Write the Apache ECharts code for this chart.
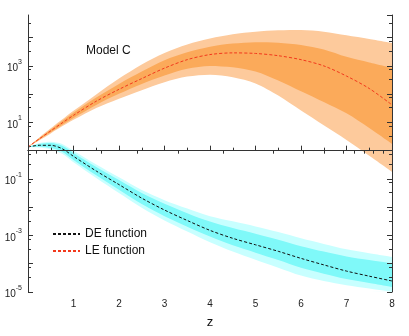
<!DOCTYPE html>
<html>
<head>
<meta charset="utf-8">
<script src="https://cdn.jsdelivr.net/npm/echarts@6/dist/echarts.min.js"></script>
<style>
  html, body { margin: 0; padding: 0; background: #fff; }
  #chart { width: 409px; height: 336px; }
</style>
</head>
<body>
<div id="chart"></div>
<script>
// Redshift samples
const z = [0, 0.25, 0.5, 0.75, 1, 1.5, 2, 2.5, 3, 3.5, 4, 4.5, 5, 5.5, 6, 6.5, 7, 7.5, 8];

// All values below are log10 of the plotted quantity.
// LE function: central curve and the inner / outer envelopes
const leMid    = [0.13, 0.42, 0.70, 0.98, 1.25, 1.75, 2.17, 2.55, 2.92, 3.22, 3.40, 3.46, 3.44, 3.36, 3.22, 3.00, 2.64, 2.20, 1.62];
const leIn_hi  = [0.13, 0.45, 0.75, 1.05, 1.34, 1.88, 2.36, 2.80, 3.20, 3.48, 3.68, 3.79, 3.84, 3.82, 3.74, 3.58, 3.32, 3.12, 2.93];
const leIn_lo  = [0.13, 0.39, 0.65, 0.91, 1.16, 1.62, 2.01, 2.36, 2.66, 2.90, 3.00, 2.95, 2.80, 2.48, 2.10, 1.72, 1.32, 0.80, 0.24];
const leOut_hi = [0.13, 0.47, 0.79, 1.10, 1.41, 1.99, 2.55, 3.05, 3.46, 3.76, 3.97, 4.12, 4.21, 4.26, 4.27, 4.21, 4.08, 3.95, 3.81];
const leOut_lo = [0.13, 0.37, 0.61, 0.86, 1.09, 1.51, 1.84, 2.14, 2.42, 2.62, 2.69, 2.60, 2.38, 1.95, 1.42, 0.90, 0.38, -0.18, -0.75];

// DE function: central curve and envelopes
const deMid    = [0.13, 0.19, 0.19, 0.07, -0.20, -0.72, -1.20, -1.68, -2.10, -2.47, -2.82, -3.10, -3.33, -3.56, -3.81, -4.04, -4.26, -4.44, -4.61];
const deIn_hi  = [0.13, 0.24, 0.27, 0.17, -0.08, -0.58, -1.04, -1.50, -1.88, -2.21, -2.51, -2.74, -2.94, -3.15, -3.38, -3.57, -3.74, -3.87, -3.99];
const deIn_lo  = [0.13, 0.14, 0.10, -0.04, -0.33, -0.87, -1.38, -1.89, -2.32, -2.69, -3.04, -3.35, -3.61, -3.87, -4.14, -4.35, -4.54, -4.68, -4.82];
const deOut_hi = [0.13, 0.27, 0.32, 0.24, 0.00, -0.49, -0.94, -1.39, -1.75, -2.05, -2.32, -2.50, -2.68, -2.88, -3.10, -3.30, -3.49, -3.63, -3.76];
const deOut_lo = [0.13, 0.11, 0.04, -0.11, -0.41, -0.97, -1.50, -2.02, -2.47, -2.86, -3.24, -3.57, -3.86, -4.14, -4.42, -4.61, -4.76, -4.88, -4.99];

// Axis ranges and tick marks (decades on the y axis)
const xMin = 0, xMax = 8;
const yMin = -5, yMax = 4.8;
const yMinorTicks = [];
for (let d = -4; d <= 5; d++) {
  [d - 0.48, d - 0.12].forEach(v => { if (v > yMin && v < yMax) yMinorTicks.push(+v.toFixed(2)); });
}
const topTicks = [0.18, 0.40, 0.62, 1.0, 1.6, 2.4, 3.3, 4.3, 5.38, 6.04, 6.52, 6.92, 7.18, 7.40, 7.59, 7.80];

const FONT = 'Liberation Sans, Arial, sans-serif';
const AXIS_COLOR = '#333';
const SMOOTH = 0.3;

const pairs = (ys) => z.map((x, i) => [x, ys[i]]);

// Each envelope edge is filled down to the bottom of the plot; painting the
// edges from top to bottom (outer-hi, inner-hi, inner-lo, outer-lo) leaves
// the nested bands, the last one painted in the background colour.
function edge(ys, color) {
  return {
    type: 'line', data: pairs(ys), smooth: SMOOTH, symbol: 'none', silent: true,
    lineStyle: { width: 0, opacity: 0 },
    areaStyle: { color: color, opacity: 1, origin: 'start' }
  };
}
function bands(outHi, inHi, inLo, outLo, light, dark) {
  return [edge(outHi, light), edge(inHi, dark), edge(inLo, light), edge(outLo, '#ffffff')];
}

const axisLineStyle = { show: true, lineStyle: { color: AXIS_COLOR, width: 1 } };

const chart = echarts.init(document.getElementById('chart'), null, { renderer: 'canvas' });
chart.setOption({
  animation: false,
  backgroundColor: '#fff',
  grid: { left: 28, right: 17, top: 15, bottom: 44, outerBoundsMode: 'none' },
  title: {
    text: 'Model C', left: 86, top: 45, padding: 0,
    textStyle: { fontFamily: FONT, fontSize: 12, fontWeight: 'normal', color: '#111' }
  },
  legend: {
    orient: 'vertical', left: 52, top: 228, padding: 0,
    itemWidth: 27, itemHeight: 10, itemGap: 5,
    itemStyle: { opacity: 0 },
    data: ['DE function', 'LE function'],
    textStyle: { fontFamily: FONT, fontSize: 12, color: '#111' }
  },
  xAxis: [
    {
      type: 'value', min: xMin, max: xMax, interval: 1, position: 'bottom', z: 10,
      name: 'z', nameLocation: 'middle', nameGap: 24,
      nameTextStyle: { fontFamily: FONT, fontSize: 13, color: '#111' },
      axisLine: axisLineStyle,
      axisTick: { show: true, inside: true, length: 5, lineStyle: { color: AXIS_COLOR } },
      minorTick: { show: true, splitNumber: 2, length: 3, lineStyle: { color: AXIS_COLOR } },
      axisLabel: {
        margin: 7, fontFamily: FONT, fontSize: 10, color: '#222',
        formatter: v => (v === 0 ? '' : String(v))
      },
      splitLine: { show: false }
    },
    {
      type: 'value', min: xMin, max: xMax, position: 'top', z: 10,
      axisLine: axisLineStyle,
      axisTick: { show: true, inside: true, length: 3, customValues: topTicks, lineStyle: { color: AXIS_COLOR } },
      axisLabel: { show: false },
      splitLine: { show: false }
    }
  ],
  yAxis: [
    {
      type: 'value', min: yMin, max: yMax, interval: 1, position: 'left', z: 10,
      axisLine: axisLineStyle,
      axisTick: { show: true, inside: true, length: 5, lineStyle: { color: AXIS_COLOR } },
      axisLabel: {
        margin: 6, showMaxLabel: false,
        formatter: v => {
          const n = Math.round(v);
          if (Math.abs(v - n) > 1e-9 || n % 2 === 0) return '';
          return '{b|10}{e|' + n + '}';
        },
        rich: {
          b: { fontFamily: FONT, fontSize: 10, color: '#222', verticalAlign: 'bottom', lineHeight: 15 },
          e: { fontFamily: FONT, fontSize: 7, color: '#222', verticalAlign: 'top', lineHeight: 15 }
        }
      },
      splitLine: { show: false }
    },
    {
      type: 'value', min: yMin, max: yMax, position: 'left', z: 10,
      axisLine: { show: false },
      axisTick: { show: true, inside: true, length: 3, customValues: yMinorTicks, lineStyle: { color: AXIS_COLOR } },
      axisLabel: { show: false },
      splitLine: { show: false }
    },
    {
      type: 'value', min: yMin, max: yMax, interval: 1, position: 'right', z: 10,
      axisLine: axisLineStyle,
      axisTick: { show: true, inside: true, length: 5, lineStyle: { color: AXIS_COLOR } },
      axisLabel: { show: false },
      splitLine: { show: false }
    },
    {
      type: 'value', min: yMin, max: yMax, position: 'right', z: 10,
      axisLine: { show: false },
      axisTick: { show: true, inside: true, length: 3, customValues: yMinorTicks, lineStyle: { color: AXIS_COLOR } },
      axisLabel: { show: false },
      splitLine: { show: false }
    }
  ],
  series: [
    ...bands(leOut_hi, leIn_hi, leIn_lo, leOut_lo, '#fdca9c', '#fbaa5a'),
    ...bands(deOut_hi, deIn_hi, deIn_lo, deOut_lo, '#c8ffff', '#7ff9f9'),
    {
      name: 'DE function', type: 'line', data: pairs(deMid),
      smooth: SMOOTH, symbol: 'none', z: 5,
      lineStyle: { color: '#111', width: 1, type: [3, 2] },
      itemStyle: { color: '#111' }
    },
    {
      name: 'LE function', type: 'line', data: pairs(leMid),
      smooth: SMOOTH, symbol: 'none', z: 5,
      lineStyle: { color: '#f2381c', width: 1, type: [3, 2] },
      itemStyle: { color: '#f2381c' }
    }
  ]
});
</script>
</body>
</html>
